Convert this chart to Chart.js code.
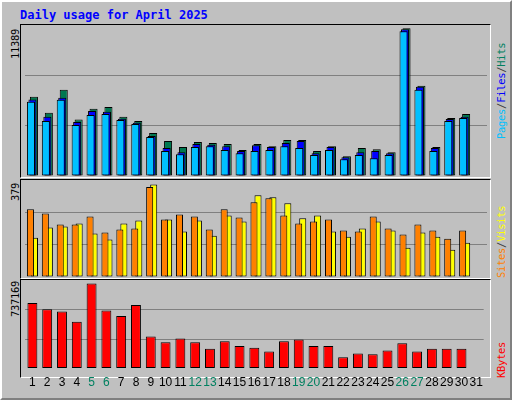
<!DOCTYPE html>
<html>
<head>
<meta charset="utf-8">
<script src="https://cdn.jsdelivr.net/npm/chart.js@4"></script>
<style>
  body { margin: 0; background: #c0c0c0; }
  #frame { position: absolute; left: 0; top: 0; width: 508px; height: 396px;
           border: 2px solid; border-color: #ffffff #808080 #808080 #ffffff; background: #c0c0c0; }
  .title { position: absolute; left: 20px; top: 8px; font: bold 12px "DejaVu Sans Mono", monospace; color: #0000ff; }
  .panel { position: absolute; left: 20px; width: 471px; border-top: 1px solid #000; border-left: 1px solid #000;
           border-right: 1px solid #fff; border-bottom: 1px solid #fff; box-sizing: border-box; }
  canvas { position: absolute; }
  .vlab { position: absolute; transform-origin: left top; transform: rotate(-90deg);
          font: 10.5px "DejaVu Sans Mono", monospace; white-space: nowrap; letter-spacing: -0.3px; }
</style>
</head>
<body>
<div id="frame"></div>
<div class="title">Daily usage for April 2025</div>
<div class="panel" style="top:24px;height:154px"></div>
<div class="panel" style="top:179px;height:100px"></div>
<div class="panel" style="top:279px;height:99px"></div>
<canvas id="c1" style="left:21px;top:25px" width="469" height="152"></canvas>
<canvas id="c2" style="left:21px;top:180px" width="469" height="98"></canvas>
<canvas id="c3" style="left:21px;top:280px" width="469" height="118"></canvas>
<div class="vlab" style="left:9px;top:59px;color:#000">11389</div>
<div class="vlab" style="left:9px;top:201px;color:#000">379</div>
<div class="vlab" style="left:9px;top:317px;color:#000">737169</div>
<div class="vlab" style="left:495px;top:139px"><span style="color:#00c0ff">Pages</span><span style="color:#404040">/</span><span style="color:#0000ff">Files</span><span style="color:#404040">/</span><span style="color:#008060">Hits</span></div>
<div class="vlab" style="left:495px;top:278px"><span style="color:#ff8000">Sites</span><span style="color:#404040">/</span><span style="color:#ffff00">Visits</span></div>
<div class="vlab" style="left:495px;top:378px;color:#ff0000">KBytes</div>
<script>
// Data
const days = ['1','2','3','4','5','6','7','8','9','10','11','12','13','14','15','16','17','18','19','20','21','22','23','24','25','26','27','28','29','30','31'];
const weekend = ['5','6','12','13','19','20','26','27'];
const hits  = [6110,4870,6650,4350,5180,5330,4560,4250,3310,2690,2230,2620,2540,2460,2000,2460,2300,2770,2770,1920,2300,1530,2150,2070,1840,11389,6960,2230,4480,4790,0];
const files = [5900,4560,6030,4170,5020,4950,4420,4110,3080,2150,1840,2460,2410,2300,1920,2380,2230,2540,2690,1760,2230,1450,1840,1920,1760,11310,6890,2150,4400,4560,0];
const pages = [5720,4250,5880,3940,4710,4790,4320,4010,3000,1920,1680,2230,2300,2000,1760,1920,2000,2300,2150,1610,2000,1300,1610,1370,1610,11160,6650,1920,4250,4480,0];
const visits = [161,203,207,219,178,153,219,231,379,235,186,231,169,252,227,335,326,302,240,252,186,165,198,227,190,120,182,165,112,140,0];
const sites  = [277,260,215,215,248,182,194,198,368,235,256,248,194,277,244,306,322,252,219,227,235,190,186,248,198,174,215,190,157,190,0];
const kbytes = [567600,513500,494900,406100,737169,503000,454600,551500,276900,228500,260800,228500,172000,236600,196200,180000,147800,236600,252700,196200,196200,99300,131600,123500,155800,220400,147800,172000,172000,172000,0];

function bar(data, color, cp, bp, order) {
  return { data, backgroundColor: color, borderColor: '#000', borderWidth: 1, order,
           borderSkipped: false, categoryPercentage: cp, barPercentage: bp };
}
function opts(max, showX) {
  return {
    responsive: false, animation: false,
    layout: { padding: { left: 4, right: 3, top: 0, bottom: 1 } },
    plugins: { legend: { display: false }, tooltip: { enabled: false } },
    scales: {
      x: { display: showX, grid: { display: false, drawTicks: false }, border: { display: false },
           ticks: { autoSkip: false, maxRotation: 0, padding: 7,
                    font: { family: 'Liberation Sans', size: 12 },
                    color: ctx => weekend.includes(days[ctx.index]) ? '#008060' : '#000' } },
      y: { min: 0, max: max, afterBuildTicks: a => { a.ticks = [0, max / 3, 2 * max / 3, max].map(v => ({ value: v })); },
           ticks: { display: false }, border: { display: false },
           grid: { color: ctx => (ctx.tick.value > 0 && ctx.tick.value < max) ? '#808080' : 'rgba(0,0,0,0)', drawTicks: false, lineWidth: 1 } }
    }
  };
}
new Chart(document.getElementById('c1'), {
  type: 'bar',
  data: { labels: days, datasets: [bar(hits, '#007850', 0.3, 5.4, 3), bar(files, '#0000ff', 0.3, 5.4, 2), bar(pages, '#00c0ff', 0.3, 5.4, 1)] },
  options: opts(11645, false)
});
new Chart(document.getElementById('c2'), {
  type: 'bar',
  data: { labels: days, datasets: [bar(visits, '#ffff00', 0.54, 1.75, 2), bar(sites, '#ff8000', 0.54, 1.75, 1)] },
  options: opts(397, false)
});
new Chart(document.getElementById('c3'), {
  type: 'bar',
  data: { labels: days, datasets: [bar(kbytes, '#ff0000', 0.67, 1, 1)] },
  options: opts(767000, true)
});
</script>
</body>
</html>
